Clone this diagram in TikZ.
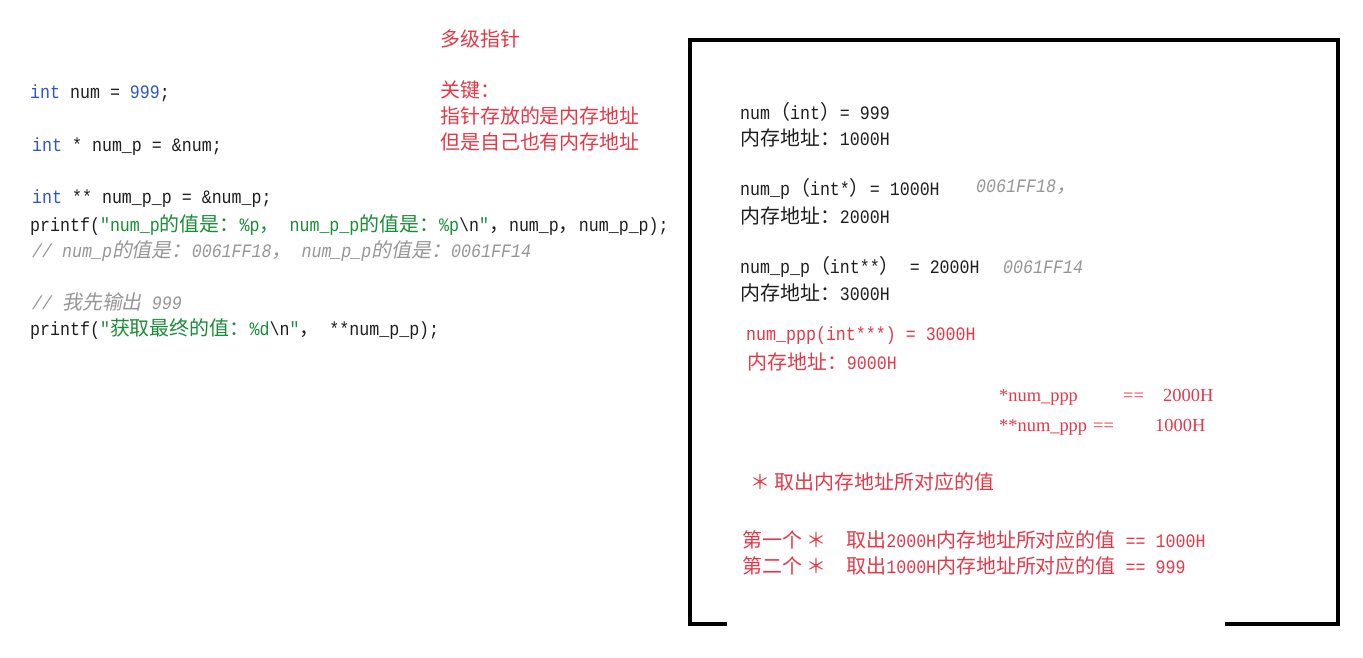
\documentclass[tikz,border=0pt]{standalone}
\usepackage{fontspec}
\setmainfont{Liberation Serif}
\setmonofont[FakeStretch=0.875]{Liberation Mono}
\newfontfamily\zhfont[Scale=1.05]{Noto Sans CJK SC}
\newfontfamily\zhslant[Scale=1.05,FakeSlant=0.2]{Noto Sans CJK SC}
\newcommand\zh[1]{{\zhfont #1}}
\newcommand\zhi[1]{{\zhslant #1}}
\usetikzlibrary{positioning}
\definecolor{ink}{RGB}{30,30,30}
\definecolor{kw}{RGB}{45,85,200}
\definecolor{str}{RGB}{25,140,55}
\definecolor{cmt}{RGB}{150,150,150}
\definecolor{mark}{RGB}{228,56,72}
\tikzset{
  every picture/.style={x=1pt, y=-1pt},
  txt/.style={anchor=west, inner sep=0pt, text=ink, font=\ttfamily\fontsize{19}{22}\selectfont},
  hint/.style={txt, text=mark},
  gray/.style={txt, text=cmt, font=\ttfamily\itshape\fontsize{19}{22}\selectfont},
  deref/.style={txt, text=mark, font=\rmfamily\fontsize{18.4}{22}\selectfont},
  frame/.style={line width=4pt, color=black},
}

\begin{document}
\begin{tikzpicture}
  \useasboundingbox (0,0) rectangle (1363,657);
  % the source on the left
  \node[txt] (l1) at (30,93) {\textcolor{kw}{int} num = \textcolor{kw}{999};};
  \node[txt] (l2) at (32,147) {\textcolor{kw}{int} * num\_p = \&num;};
  \node[txt] (l3) at (32,199) {\textcolor{kw}{int} ** num\_p\_p = \&num\_p;};
  \node[txt] (l4) at (30,225) {printf(\textcolor{str}{"num\_p\zh{的值是：}\%p\zh{，} num\_p\_p\zh{的值是：}\%p}\textbackslash n\textcolor{str}{"}\zh{，}num\_p\zh{，}num\_p\_p);};
  \node[gray] (l5) at (32,251) {// num\_p\zhi{的值是：}0061FF18\zhi{，} num\_p\_p\zhi{的值是：}0061FF14};
  \node[gray] (l6) at (32,302) {// \zhi{我先输出} 999};
  \node[txt] (l7) at (30,329) {printf(\textcolor{str}{"\zh{获取最终的值：}\%d}\textbackslash n\textcolor{str}{"}\zh{，} **num\_p\_p);};
  % red notes
  \node[hint] (title) at (440,39) {\zh{多级指针}};
  \node[hint] (key) at (440,90) {\zh{关键：}};
  \node[hint] (key1) at (440,116) {\zh{指针存放的是内存地址}};
  \node[hint] (key2) at (440,142) {\zh{但是自己也有内存地址}};
  % memory panel
  \node[txt] (v1) at (740,112) {num\zh{（}int\zh{）}= 999};
  \node[txt] (a1) at (740,138) {\zh{内存地址：}1000H};
  \node[txt] (v2) at (740,189) {num\_p\zh{（}int*\zh{）}= 1000H};
  \node[gray] (h2) at (976,187) {0061FF18\zhi{，}};
  \node[txt] (a2) at (740,216) {\zh{内存地址：}2000H};
  \node[txt] (v3) at (740,267) {num\_p\_p\zh{（}int**\zh{）} = 2000H};
  \node[gray] (h3) at (1003,267) {0061FF14};
  \node[txt] (a3) at (740,293) {\zh{内存地址：}3000H};
  \node[hint] (v4) at (746,336) {num\_ppp(int***) = 3000H};
  \node[hint] (a4) at (747,362) {\zh{内存地址：}9000H};
  \node[deref] (d1) at (999,397) {\makebox[124pt][l]{*num\_ppp}\makebox[40pt][l]{==}2000H};
  \node[deref] (d2) at (999,427) {\makebox[94pt][l]{**num\_ppp}\makebox[62pt][l]{==}1000H};
  \node[hint] (star) at (750,482) {\zh{＊ 取出内存地址所对应的值}};
  \node[hint] (s1) at (742,540) {\zh{第一个 ＊}\ \ \zh{取出}2000H\zh{内存地址所对应的值} == 1000H};
  \node[hint] (s2) at (742,566) {\zh{第二个 ＊}\ \ \zh{取出}1000H\zh{内存地址所对应的值} == 999};
  \draw[frame] (727,624) -- (690,624) -- (690,40) -- (1338,40) -- (1338,624) -- (1225,624);
\end{tikzpicture}
\end{document}
